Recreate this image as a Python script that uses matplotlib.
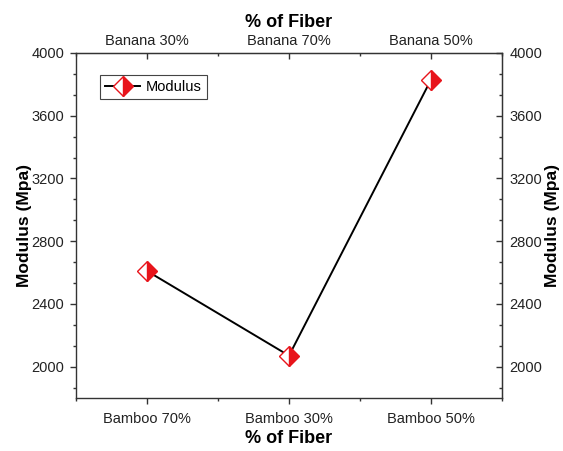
import matplotlib
matplotlib.use("Agg")
import matplotlib.pyplot as plt
from matplotlib.ticker import FixedLocator, MultipleLocator, AutoMinorLocator

plt.rcParams['font.family'] = ['Liberation Sans', 'DejaVu Sans']

bottom_labels = ["Bamboo 70%", "Bamboo 30%", "Bamboo 50%"]
top_labels = ["Banana 30%", "Banana 70%", "Banana 50%"]
modulus = [2610, 2070, 3830]

fig = plt.figure(figsize=(5.63, 4.51), dpi=100)
AX_L, AX_R, AX_T, AX_B = 76, 502, 53, 398
ax = fig.add_axes([AX_L/563, 1-AX_B/451, (AX_R-AX_L)/563, (AX_B-AX_T)/451])
W = AX_R - AX_L

xpos = list(range(1, len(modulus) + 1))
ax.plot(xpos, modulus, color='black', lw=1.4, marker='D', markersize=10,
        fillstyle='right', markerfacecolor='#e8141b', markerfacecoloralt='white',
        markeredgecolor='#e8141b', markeredgewidth=1.0, label='Modulus')

ax.set_xlim(0.5, 3.5)
ax.set_ylim(1800, 4000)
ax.xaxis.set_major_locator(FixedLocator(xpos))
ax.xaxis.set_minor_locator(FixedLocator([0.5, 1.5, 2.5, 3.5]))
ax.set_xticklabels(bottom_labels)
ax.yaxis.set_major_locator(MultipleLocator(400))
ax.yaxis.set_minor_locator(AutoMinorLocator(3))

spine_c = '#333333'
for s in ax.spines.values():
    s.set_color(spine_c)
    s.set_linewidth(1.0)

lab_c = '#222222'
ax.tick_params(axis='x', which='major', direction='out', length=4, width=1.0,
               colors=spine_c, labelcolor=lab_c, labelsize=10.5, pad=6)
ax.tick_params(axis='y', which='major', direction='out', length=4, width=1.0,
               colors=spine_c, labelcolor=lab_c, labelsize=10.5, pad=4.5)
ax.tick_params(which='minor', length=2.5, width=1.0, direction='out', colors=spine_c)

ax.set_xlabel('% of Fiber', fontsize=13, fontweight='bold', labelpad=3)
ax.set_ylabel('Modulus (Mpa)', fontsize=12.5, fontweight='bold')
ax.yaxis.set_label_coords((32 - AX_L) / W, 0.5)

secx = ax.secondary_xaxis('top')
secx.xaxis.set_major_locator(FixedLocator(xpos))
secx.xaxis.set_minor_locator(FixedLocator([0.5, 1.5, 2.5, 3.5]))
secx.set_xticklabels(top_labels)
secx.tick_params(which='major', direction='in', length=4, width=1.0,
                 colors=spine_c, labelcolor=lab_c, labelsize=10.5, pad=3.5)
secx.tick_params(which='minor', length=2.5, width=1.0, direction='in', colors=spine_c)
secx.set_xlabel('% of Fiber', fontsize=13, fontweight='bold', labelpad=5)
secx.spines['top'].set_color(spine_c)

secy = ax.secondary_yaxis('right')
secy.yaxis.set_major_locator(MultipleLocator(400))
secy.yaxis.set_minor_locator(AutoMinorLocator(3))
secy.tick_params(which='major', direction='in', length=4, width=1.0,
                 colors=spine_c, labelcolor=lab_c, labelsize=10.5, pad=5.5)
secy.tick_params(which='minor', length=2.5, width=1.0, direction='in', colors=spine_c)
secy.spines['right'].set_color(spine_c)
fig.text(553/563, 1 - ((AX_T + AX_B) / 2) / 451, 'Modulus (Mpa)', rotation=90,
         ha='center', va='center', fontsize=12.5, fontweight='bold')

leg = ax.legend(loc='upper left', bbox_to_anchor=(24/W, 1-22/(AX_B-AX_T)), borderaxespad=0,
                fontsize=10.5, fancybox=False, edgecolor='#444444', framealpha=1,
                handlelength=2.4, handletextpad=0.4, borderpad=0.35)
leg.get_frame().set_linewidth(0.8)

fig.savefig('out.png', dpi=100)
